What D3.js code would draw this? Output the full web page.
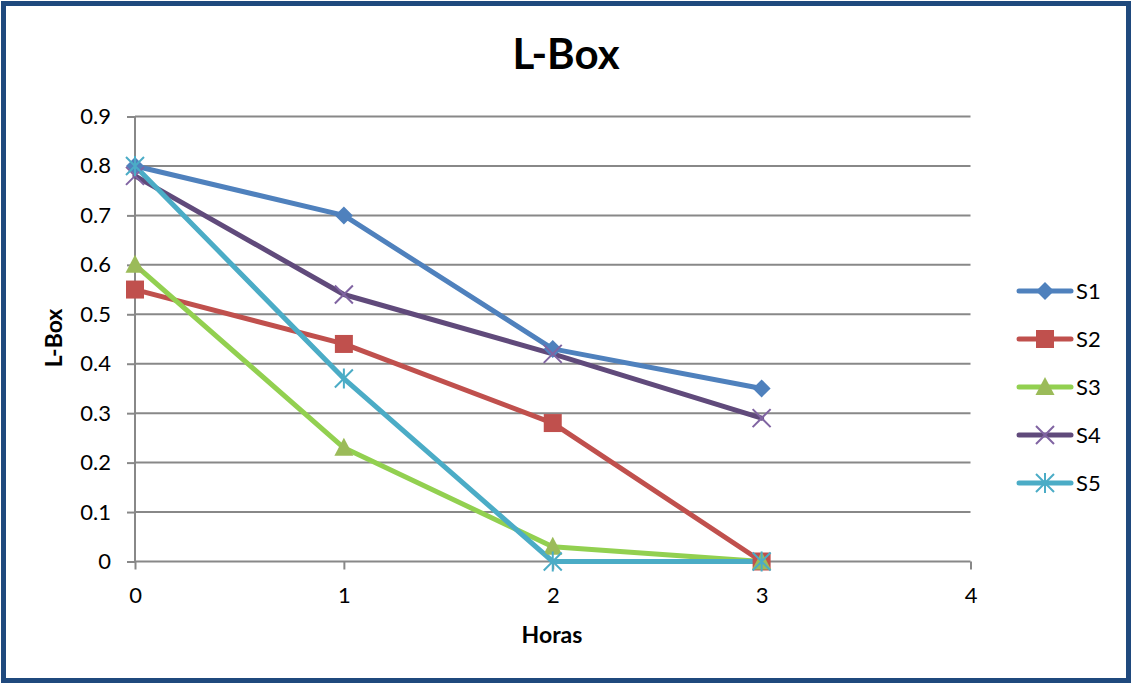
<!DOCTYPE html>
<html>
<head>
<meta charset="utf-8">
<script src="https://cdn.jsdelivr.net/npm/d3@7"></script>
<style>
  html, body { margin: 0; padding: 0; background: #fff; }
  svg { display: block; }
  text { font-family: Lato, "Open Sans", "DejaVu Sans", sans-serif; }
</style>
</head>
<body>
<svg id="chart" width="1132" height="684"></svg>
<script>
// Hours on the x axis
const horas = [0, 1, 2, 3];
// L-Box values per series
const s1 = [0.80, 0.70, 0.43, 0.35];
const s2 = [0.55, 0.44, 0.28, 0.00];
const s3 = [0.60, 0.23, 0.03, 0.00];
const s4 = [0.78, 0.54, 0.42, 0.29];
const s5 = [0.80, 0.37, 0.00, 0.00];
const seriesNames = ["S1", "S2", "S3", "S4", "S5"];
const xTicks = [0, 1, 2, 3, 4];
const yTicks = [0, 0.1, 0.2, 0.3, 0.4, 0.5, 0.6, 0.7, 0.8, 0.9];

const series = [
  { name: seriesNames[0], values: s1, line: "#4F81BD", fill: "#4F81BD", marker: "diamond" },
  { name: seriesNames[1], values: s2, line: "#C0504D", fill: "#C0504D", marker: "square" },
  { name: seriesNames[2], values: s3, line: "#92D050", fill: "#9BBB59", marker: "triangle" },
  { name: seriesNames[3], values: s4, line: "#604A7B", fill: "#8064A2", marker: "x" },
  { name: seriesNames[4], values: s5, line: "#4BACC6", fill: "#4BACC6", marker: "star" }
];

const svg = d3.select("#chart");
const W = 1132, H = 684;

// outer frame
svg.append("rect")
  .attr("x", 3.5).attr("y", 3.5)
  .attr("width", W - 7).attr("height", H - 7)
  .attr("fill", "#fff").attr("stroke", "#1F497D").attr("stroke-width", 5);

const x = d3.scaleLinear().domain([0, 4]).range([135, 970.5]);
const y = d3.scaleLinear().domain([0, 0.9]).range([561.5, 116.5]);

// horizontal gridlines
svg.append("g")
  .selectAll("line")
  .data(yTicks.filter(d => d > 0))
  .join("line")
  .attr("x1", x(0)).attr("x2", x(4))
  .attr("y1", d => y(d)).attr("y2", d => y(d))
  .attr("stroke", "#888").attr("stroke-width", 2);

// y axis
const yAxis = svg.append("g")
  .attr("transform", `translate(${x(0)},0)`)
  .call(d3.axisLeft(y).tickValues(yTicks).tickSize(8).tickPadding(16)
    .tickFormat(d => d === 0 ? "0" : d3.format(".1f")(d)));
yAxis.select(".domain").attr("stroke", "#888").attr("stroke-width", 2)
  .attr("d", `M0,${y(0)}V${y(0.9)}`);
yAxis.selectAll(".tick line").attr("stroke", "#888").attr("stroke-width", 2);
yAxis.selectAll(".tick text").attr("fill", "#000").style("font-size", "22px")
  .style("font-family", "Lato, sans-serif");

// x axis
const xAxis = svg.append("g")
  .attr("transform", `translate(0,${y(0)})`)
  .call(d3.axisBottom(x).tickValues(xTicks).tickSize(8).tickPadding(18)
    .tickFormat(d3.format("d")));
xAxis.select(".domain").attr("stroke", "#888").attr("stroke-width", 2)
  .attr("d", `M${x(0)},0H${x(4)}`);
xAxis.selectAll(".tick line").attr("stroke", "#888").attr("stroke-width", 2);
xAxis.selectAll(".tick text").attr("fill", "#000").style("font-size", "22px")
  .style("font-family", "Lato, sans-serif");

// titles
svg.append("text")
  .attr("x", 566).attr("y", 69)
  .attr("text-anchor", "middle")
  .style("font-size", "42px").style("font-weight", "bold")
  .text("L-Box");

svg.append("text")
  .attr("x", 552).attr("y", 643)
  .attr("text-anchor", "middle")
  .style("font-size", "23px").style("font-weight", "bold")
  .text("Horas");

svg.append("text")
  .attr("transform", "translate(62,338) rotate(-90)")
  .attr("text-anchor", "middle")
  .style("font-size", "23px").style("font-weight", "bold")
  .text("L-Box");

// marker drawing
function drawMarker(g, type, color) {
  if (type === "diamond") {
    g.append("path").attr("d", "M0,-9L9,0L0,9L-9,0Z").attr("fill", color);
  } else if (type === "square") {
    g.append("rect").attr("x", -9).attr("y", -9).attr("width", 18).attr("height", 18).attr("fill", color);
  } else if (type === "triangle") {
    g.append("path").attr("d", "M0,-10L9.5,8L-9.5,8Z").attr("fill", color);
  } else if (type === "x") {
    g.append("path").attr("d", "M-9,-9L9,9M-9,9L9,-9")
      .attr("stroke", color).attr("stroke-width", 2).attr("fill", "none");
  } else if (type === "star") {
    g.append("path").attr("d", "M-9,-9L9,9M-9,9L9,-9M0,-10V10")
      .attr("stroke", color).attr("stroke-width", 2).attr("fill", "none");
  }
}

const line = d3.line().x((d, i) => x(horas[i])).y(d => y(d));

// series lines and markers
series.forEach(s => {
  svg.append("path")
    .attr("d", line(s.values))
    .attr("fill", "none")
    .attr("stroke", s.line)
    .attr("stroke-width", 5)
    .attr("stroke-linejoin", "round")
    .attr("stroke-linecap", "round");
});
series.forEach(s => {
  s.values.forEach((v, i) => {
    const g = svg.append("g").attr("transform", `translate(${x(horas[i])},${y(v)})`);
    drawMarker(g, s.marker, s.fill);
  });
});

// legend
const legend = svg.append("g");
series.forEach((s, i) => {
  const ly = 291 + i * 48;
  legend.append("line")
    .attr("x1", 1019).attr("x2", 1071).attr("y1", ly).attr("y2", ly)
    .attr("stroke", s.line).attr("stroke-width", 5).attr("stroke-linecap", "round");
  const g = legend.append("g").attr("transform", `translate(1045,${ly})`);
  drawMarker(g, s.marker, s.fill);
  legend.append("text")
    .attr("x", 1076).attr("y", ly + 8)
    .style("font-size", "22px")
    .text(s.name);
});
</script>
</body>
</html>
